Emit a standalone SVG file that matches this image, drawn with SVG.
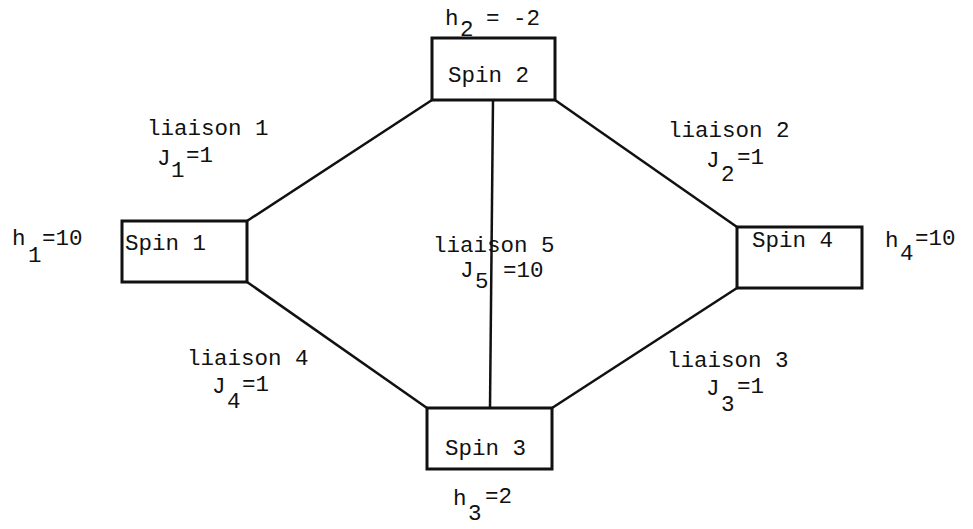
<svg xmlns="http://www.w3.org/2000/svg" width="973" height="529" viewBox="0 0 973 529">
<style>
text{font-family:"Liberation Mono","DejaVu Sans Mono",monospace;font-size:22.5px;fill:#111}
.box{fill:#fff;stroke:#111;stroke-width:3}
.edge{stroke:#111;stroke-width:2.5;fill:none}
</style>
<rect width="973" height="529" fill="#fff"/>
<g id="connectors">
<line class="edge" x1="247" y1="221" x2="432" y2="100"/>
<line class="edge" x1="555" y1="100" x2="737" y2="227"/>
<line class="edge" x1="737" y1="288" x2="552" y2="408"/>
<line class="edge" x1="427" y1="408" x2="247" y2="282"/>
<line class="edge" x1="493" y1="100" x2="490" y2="408"/>
</g>
<g id="spin1">
<rect class="box" x="122" y="221" width="125" height="61"/>
<text x="125" y="250">Spin 1</text>
<text x="12" y="245">h<tspan x="28" y="262">1</tspan><tspan x="42" y="245">=10</tspan></text>
</g>
<g id="spin2">
<rect class="box" x="432" y="38" width="123" height="62"/>
<text x="448" y="82">Spin 2</text>
<text x="445" y="25">h<tspan x="460" y="36">2</tspan><tspan x="486" y="25">= -2</tspan></text>
</g>
<g id="spin3">
<rect class="box" x="427" y="408" width="125" height="61"/>
<text x="445" y="455">Spin 3</text>
<text x="453" y="505">h<tspan x="468" y="520">3</tspan><tspan x="485" y="503">=2</tspan></text>
</g>
<g id="spin4">
<rect class="box" x="737" y="227" width="125" height="61"/>
<text x="752" y="247">Spin 4</text>
<text x="885" y="247">h<tspan x="900" y="260">4</tspan><tspan x="915" y="245">=10</tspan></text>
</g>
<g id="labels">
<text x="147" y="135">liaison 1</text>
<text x="157" y="165">J<tspan x="171" y="177">1</tspan><tspan x="186" y="162">=1</tspan></text>
<text x="668" y="137">liaison 2</text>
<text x="706" y="167">J<tspan x="721" y="181">2</tspan><tspan x="737" y="164">=1</tspan></text>
<text x="667" y="367">liaison 3</text>
<text x="706" y="395">J<tspan x="721" y="411">3</tspan><tspan x="737" y="393">=1</tspan></text>
<text x="187" y="365">liaison 4</text>
<text x="212" y="393">J<tspan x="227" y="408">4</tspan><tspan x="242" y="391">=1</tspan></text>
<text x="433" y="252">liaison 5</text>
<text x="460" y="277">J<tspan x="475" y="288">5</tspan><tspan x="503" y="277">=10</tspan></text>
</g>
</svg>
